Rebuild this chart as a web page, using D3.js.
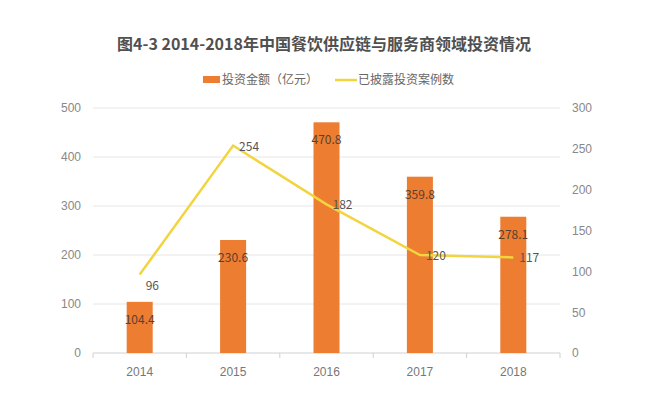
<!DOCTYPE html>
<html>
<head>
<meta charset="utf-8">
<script src="https://cdn.jsdelivr.net/npm/d3@7"></script>
<style>
  body { margin: 0; background: #fff; }
  svg { font-family: "Noto Sans CJK SC", "Noto Sans", sans-serif; }
</style>
</head>
<body>
<svg id="chart" width="646" height="394"></svg>
<script>
// Data
var years = ["2014", "2015", "2016", "2017", "2018"];
var amounts = [104.4, 230.6, 470.8, 359.8, 278.1];
var cases = [96, 254, 182, 120, 117];
var leftTicks = [0, 100, 200, 300, 400, 500];
var rightTicks = [0, 50, 100, 150, 200, 250, 300];

var svg = d3.select("#chart");
var margin = {top: 108, left: 93, right: 86, bottom: 41};
var w = 646 - margin.left - margin.right;
var h = 394 - margin.top - margin.bottom;

var x = d3.scaleBand().domain(years).range([0, w]);
var yL = d3.scaleLinear().domain([0, 500]).range([h, 0]);
var yR = d3.scaleLinear().domain([0, 300]).range([h, 0]);

svg.append("text")
  .attr("x", 324).attr("y", 50)
  .attr("text-anchor", "middle")
  .attr("font-size", 16).attr("font-weight", "bold")
  .attr("fill", "#505050")
  .text("图4-3 2014-2018年中国餐饮供应链与服务商领域投资情况");

// legend
var lg = svg.append("g").attr("font-size", 12).attr("fill", "#666");
lg.append("rect").attr("x", 203).attr("y", 76).attr("width", 17).attr("height", 7).attr("fill", "#ED7D31");
lg.append("text").attr("x", 222).attr("y", 84).attr("fill", "#666").text("投资金额（亿元）");
lg.append("line").attr("x1", 335).attr("x2", 357).attr("y1", 80).attr("y2", 80)
  .attr("stroke", "#F2D43E").attr("stroke-width", 2.5);
lg.append("text").attr("x", 358).attr("y", 84).attr("fill", "#666").text("已披露投资案例数");

var g = svg.append("g").attr("transform", "translate(" + margin.left + "," + margin.top + ")");

// gridlines
g.selectAll(".grid").data(leftTicks).enter().append("line")
  .attr("x1", 0).attr("x2", w)
  .attr("y1", function(d) { return yL(d); }).attr("y2", function(d) { return yL(d); })
  .attr("stroke", function(d) { return d === 0 ? "#d0d0d0" : "#e6e6e6"; })
  .attr("stroke-width", 1);

// x axis ticks
var xa = g.append("g").attr("transform", "translate(0," + h + ")")
  .call(d3.axisBottom(x).tickSize(0).tickPadding(14));
xa.select(".domain").remove();
xa.selectAll("text").attr("font-size", 12).attr("fill", "#777").attr("font-family", "inherit");
g.selectAll(".xtick").data(d3.range(years.length + 1)).enter().append("line")
  .attr("x1", function(i) { return i * x.step(); }).attr("x2", function(i) { return i * x.step(); })
  .attr("y1", h).attr("y2", h + 5).attr("stroke", "#d0d0d0");

// left axis
var la = g.append("g").call(d3.axisLeft(yL).tickValues(leftTicks).tickSize(0).tickPadding(12));
la.select(".domain").remove();
la.selectAll("text").attr("font-size", 12).attr("fill", "#888").attr("font-family", "inherit");

// right axis
var ra = g.append("g").attr("transform", "translate(" + w + ",0)")
  .call(d3.axisRight(yR).tickValues(rightTicks).tickSize(0).tickPadding(12));
ra.select(".domain").remove();
ra.selectAll("text").attr("font-size", 12).attr("fill", "#888").attr("font-family", "inherit");

// bars
var bw = 26;
g.selectAll(".bar").data(amounts).enter().append("rect")
  .attr("x", function(d, i) { return x(years[i]) + x.bandwidth() / 2 - bw / 2; })
  .attr("y", function(d) { return yL(d); })
  .attr("width", bw)
  .attr("height", function(d) { return h - yL(d); })
  .attr("fill", "#ED7D31");

// line
var line = d3.line()
  .x(function(d, i) { return x(years[i]) + x.bandwidth() / 2; })
  .y(function(d) { return yR(d); });
g.append("path").datum(cases)
  .attr("d", line)
  .attr("fill", "none")
  .attr("stroke", "#F2D43E")
  .attr("stroke-width", 2.5);

// bar labels
g.selectAll(".blab").data(amounts).enter().append("text")
  .attr("x", function(d, i) { return x(years[i]) + x.bandwidth() / 2; })
  .attr("y", function(d) { return yL(d) + 22; })
  .attr("text-anchor", "middle")
  .attr("font-size", 12).attr("fill", "#5a4030")
  .text(function(d) { return d; });

// line labels
g.selectAll(".llab").data(cases).enter().append("text")
  .attr("x", function(d, i) { return x(years[i]) + x.bandwidth() / 2 + 6; })
  .attr("y", function(d, i) { return yR(d) + (i === 0 ? 15 : 5); })
  .attr("font-size", 12).attr("fill", "#555")
  .text(function(d) { return d; });
</script>
</body>
</html>
